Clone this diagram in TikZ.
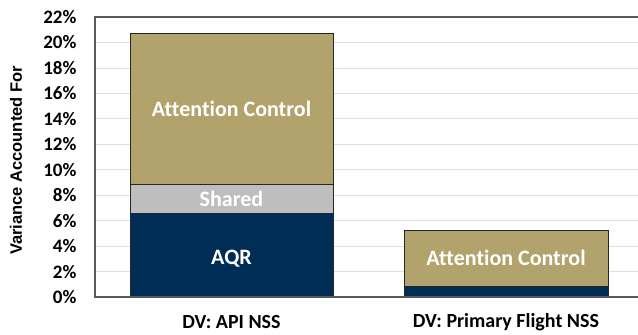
\documentclass[tikz,border=0pt]{standalone}
\usepackage{fontspec}
\setmainfont{Carlito}[Ligatures=NoCommon]
\newfontfamily\axisfont{Liberation Sans}
\definecolor{gold}{RGB}{177,163,107}
\definecolor{navy}{RGB}{0,45,86}
\definecolor{shared}{RGB}{190,190,190}
\definecolor{gridgray}{RGB}{222,222,222}
\definecolor{framegray}{RGB}{89,89,89}
\tikzset{
  seg/.style={draw=black!85, line width=0.9pt},
  seglabel/.style={text=white, font=\fontsize{22}{26}\selectfont\bfseries},
  ticklabel/.style={anchor=east, font=\fontsize{19}{22}\selectfont\bfseries},
  catlabel/.style={font=\fontsize{20}{24}\selectfont\bfseries}
}
\begin{document}
\begin{tikzpicture}[x=1pt, y=12.727pt]
    \useasboundingbox (-95pt,-38pt) rectangle (543pt,297pt);
    % Grid
    \foreach \i in {2,4,...,20}
    {
    \draw [gridgray, line width=0.8pt] (0,\i) -- (543,\i);
    }
    % Bars
    \fill [navy] (35,0) rectangle (238,6.6);
    \fill [shared] (35,6.6) rectangle (238,8.85);
    \fill [gold] (35,8.85) rectangle (238,20.7);
    \draw [seg] (35,0) rectangle (238,6.6);
    \draw [seg] (35,6.6) rectangle (238,8.85);
    \draw [seg] (35,8.85) rectangle (238,20.7);
    \fill [navy] (309,0) rectangle (513,0.85);
    \fill [gold] (309,0.85) rectangle (513,5.25);
    \draw [seg] (309,0) rectangle (513,0.85);
    \draw [seg] (309,0.85) rectangle (513,5.25);
    % Axes
    \draw [framegray, line width=1.4pt] (543,22) -- (0,22) -- (0,0) -- (543,0);
    % Ticks
    \foreach \i in {0,2,...,22}
    {
    \node [ticklabel] (t\i) at (-15,\i) {\i\%};
    }
    % Labels
    \node [seglabel] (ac1) at (136.5,14.77) {Attention Control};
    \node [seglabel] (sh1) at (136.5,7.72) {Shared};
    \node [seglabel] (aqr1) at (136.5,3.0) {AQR};
    \node [seglabel] (ac2) at (411,3.05) {Attention Control};
    \node [catlabel] (dv1) at (136.5,-25pt) {DV: API NSS};
    \node [catlabel] (dv2) at (411,-25pt) {DV: Primary Flight NSS};
    \node [font=\axisfont\fontsize{16.5}{20}\selectfont\bfseries, rotate=90] (ylab) at (-79,10.73) {Variance Accounted For};
\end{tikzpicture}
\end{document}
